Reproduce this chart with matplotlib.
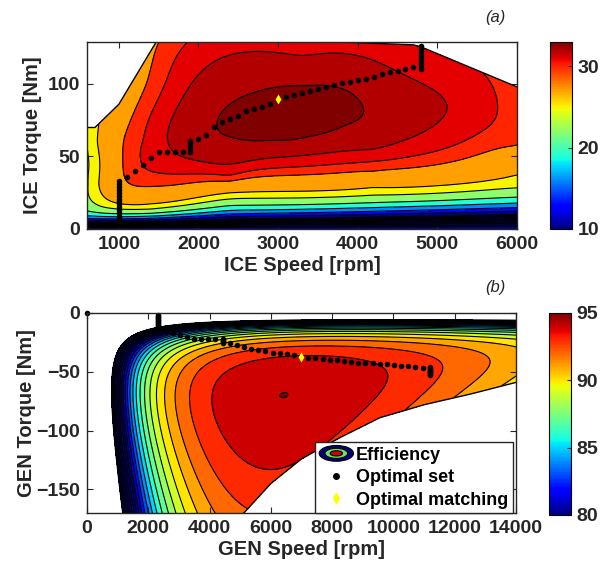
import numpy as np
import matplotlib
matplotlib.use("Agg")
import matplotlib.pyplot as plt
from matplotlib.colors import Normalize
from matplotlib.cm import ScalarMappable
from matplotlib.lines import Line2D
from matplotlib.patches import Ellipse, Patch
from matplotlib.legend_handler import HandlerBase

plt.rcParams['font.family'] = ['Liberation Sans', 'DejaVu Sans']
plt.rcParams['font.weight'] = 'bold'
plt.rcParams['axes.labelweight'] = 'bold'

# ---------------- ICE map (a): points read on the contour lines (rpm, Nm, %)
ice_cont_speed = [2240, 2450, 2450, 2700, 2700, 3150, 3150, 3600, 3600, 3850, 3850, 4050,
                  1600, 5140, 3300, 2390, 4190, 4190,
                  1325, 5760, 2390, 1580, 4190, 4740,
                  1054, 1050, 1080, 1250, 1400, 2390, 4190, 6000, 1350, 1480,
                  6000, 4190, 2390, 1400, 850, 720, 700,
                  6000, 4190, 2390, 1400, 800, 640, 620,
                  6000, 4190, 2390, 1400, 650,
                  3150, 6000, 600]
ice_cont_torque = [74.6, 63.6, 88, 60.7, 93.9, 61, 99, 66.1, 99.3, 72.3, 96.1, 85.4,
                   65, 84, 119, 45.5, 54, 116.6,
                   62, 82, 36, 100, 47.6, 125.7,
                   61, 45, 33, 29.5, 29, 32.6, 39, 56.6, 100, 127,
                   38.6, 29, 25.5, 18.6, 21, 30, 60,
                   28, 23.5, 20, 13, 15, 30, 60,
                   22, 18, 16.6, 11, 12,
                   80, 85, 45]
ice_cont_eff = ([33] * 12 + [32] * 6 + [31] * 6 + [30] * 10 + [27] * 7 + [25] * 7 + [22] * 5 +
                [33.4, 30.6, 24.5])
ice_friction = (5.1, 1.63)   # friction torque = a + b * speed/1000

# full load curve of the engine
ice_max_speed = [600, 700, 1000, 1480, 2500, 4000, 4700, 4800, 6000]
ice_max_torque = [70, 70, 86, 130, 131, 128.5, 127, 125.5, 98]

ice_levels = [-1, 0.5, 1, 2, 3, 4, 5, 6, 7, 8, 9, 10, 13, 16, 19, 22, 25, 27, 30, 31, 32, 33, 40]

# optimal operating set of the engine
ice_opt_speed = ([0] + [1000] * 15 +
                 [1100, 1200, 1300, 1400, 1500, 1600, 1700, 1800] + [1900] * 5 +
                 [2000, 2100, 2200, 2300, 2400, 2500, 2600, 2700, 2800, 2900, 3000,
                  3100, 3200, 3300, 3400, 3500, 3600, 3700, 3800, 3900, 4000,
                  4100, 4200, 4300, 4400, 4500, 4600, 4700] + [4800] * 9)
ice_opt_torque = ([0] + [5, 7, 9, 11, 13, 15, 17, 19, 21, 23, 25, 27, 29, 31, 33] +
                  [36, 40, 44, 49, 53, 53, 53, 53] + [53, 55, 57, 59, 61] +
                  [62, 65, 70, 74, 76, 78, 81.6, 82.5, 84, 86, 89.4,
                   91, 92.4, 94, 95.4, 96.5, 98, 99.3, 101, 101.7, 103,
                   103.7, 105, 107, 108, 109, 110, 111.5] +
                  [110, 112, 114, 116, 118, 120, 122, 124, 126])
ice_match = (3000, 89.5)

# ---------------- GEN map (b): points read on the contour lines (torque magnitude)
gen_cont_speed = [6500, 8000, 9500, 10100, 5220, 4600, 4900, 7500, 5000,
                  11000, 12000, 3430, 3800, 4300, 4700,
                  13570, 3100, 3900,
                  2750, 3500, 2450, 3000, 2050, 2600, 1650, 2000, 1150, 1570]
gen_cont_torque = [40, 40, 45, 58.5, 126, 55, 90, 94.5, 40,
                   40, 52.5, 50, 100, 150, 165,
                   48, 50, 150,
                   50, 150, 50, 150, 50, 150, 50, 150, 50, 170]
gen_cont_eff = [94] * 9 + [93] * 6 + [92] * 3 + [91, 91, 90, 90, 88, 88, 85, 85, 80, 80]
gen_peak = (6400, 70, 95.2)

# power limit of the generator
gen_lim_speed = [5120, 6000, 7000, 8250, 9560, 11000, 12500, 14000]
gen_lim_torque = [170, 145, 124, 106, 89, 78, 69, 59]

gen_levels = list(range(72, 96)) + [100]
gen_weight = {94: 3, 93: 2}
speed_ratio = 2.33
torque_ratio = 2.4


def tps_kernel(r):
    with np.errstate(divide='ignore', invalid='ignore'):
        k = r * r * np.log(r)
    return np.where(r > 0, k, 0.0)


def tps_fit(x, y, z, smooth):
    d = np.hypot(x[:, None] - x[None, :], y[:, None] - y[None, :])
    K = tps_kernel(d) + smooth * np.eye(len(x))
    P = np.column_stack([np.ones_like(x), x, y])
    A = np.block([[K, P], [P.T, np.zeros((3, 3))]])
    sol = np.linalg.solve(A, np.concatenate([z, np.zeros(3)]))
    return sol[:len(x)], sol[len(x):]


def tps_eval(x, y, cx, cy, w, c):
    d = np.hypot(x[..., None] - cx, y[..., None] - cy)
    return tps_kernel(d) @ w + c[0] + c[1] * x + c[2] * y


def ice_load_factor(n, t):
    tf = ice_friction[0] + ice_friction[1] * n / 1000
    return t * t / (t * t + tf * tf)


def gen_terms(n, t):
    # loss model terms: constant, torque (copper) and speed (iron) parts
    a = np.asarray(n, float) / 1000.0
    b = np.asarray(t, float) / 100.0
    one = np.ones_like(a)
    zero = np.zeros_like(a)
    B = np.stack([one, b, b * b, a * a, a ** 3, a * a * b * b, a ** 3 * b * b], -1)
    Ba = np.stack([zero, zero, zero, 2 * a, 3 * a * a, 2 * a * b * b, 3 * a * a * b * b], -1)
    Bb = np.stack([zero, one, 2 * b, zero, zero, 2 * a * a * b, 2 * a ** 3 * b], -1)
    return B, Ba, Bb, a, b


def gen_power(n, t):
    return t * n * np.pi / 30 / 1000


def fit_gen():
    n = np.array(gen_cont_speed, float)
    t = np.array(gen_cont_torque, float)
    e = np.array(gen_cont_eff, float)
    w = np.array([gen_weight.get(x, 1) for x in gen_cont_eff], float)
    B = gen_terms(n, t)[0]
    P = gen_power(n, t)
    pn, pt, pe = gen_peak
    pB, pBa, pBb, pa, pb = gen_terms(pn, pt)
    pP = gen_power(pn, pt)
    k = 8
    A = np.vstack([B * (w / P)[:, None], k * pB / pP, k * (pa * pBa - pB) / pP,
                   k * (pb * pBb - pB) / pP])
    y = np.concatenate([w * (1 - e / 100), [k * (1 - pe / 100), 0, 0]])
    return np.linalg.lstsq(A, y, rcond=None)[0]


def band_colors(levels, lo, hi):
    cmap = matplotlib.colormaps['jet']
    norm = Normalize(lo, hi)
    return [cmap(norm(min(max(l, lo), hi))) for l in levels[:-1]]


class EfficiencyHandler(HandlerBase):
    def create_artists(self, legend, orig_handle, xdescent, ydescent, width, height, fontsize, trans):
        cx = width / 2 - xdescent
        cy = height / 2 - ydescent
        out = []
        for sw, sh, col in [(1.0, 1.25, '#00007a'), (0.66, 0.8, '#6ee06e'), (0.36, 0.42, '#c80000')]:
            out.append(Ellipse((cx, cy), sw * width, sh * height, facecolor=col,
                               edgecolor='k', lw=0.8, transform=trans))
        return out


grey = '#262626'
fig = plt.figure(figsize=(6.16, 5.81), dpi=100)
ax1 = fig.add_axes([0.1412, 0.6059, 0.698, 0.3219])
cax1 = fig.add_axes([0.8929, 0.6059, 0.0357, 0.3219])
ax2 = fig.add_axes([0.1412, 0.1170, 0.6964, 0.3443])
cax2 = fig.add_axes([0.8912, 0.1136, 0.0357, 0.3477])

# ---- (a) ICE: efficiency = load factor * smooth surface through the read points
n = np.array(ice_cont_speed, float)
t = np.array(ice_cont_torque, float)
q = np.array(ice_cont_eff, float) / ice_load_factor(n, t)
sx, sy = 1 / 1250.0, 1.45 / 100.0      # scale to screen-like units
w, c = tps_fit(n * sx, t * sy, q, 0.02)
N, T = np.meshgrid(np.linspace(600, 6000, 360), np.linspace(0, 131, 300))
Z = ice_load_factor(N, T) * tps_eval(N * sx, T * sy, n * sx, t * sy, w, c)
Z = np.ma.masked_where(T > np.interp(N, ice_max_speed, ice_max_torque), Z)
ax1.contourf(N, T, Z, levels=ice_levels, colors=band_colors(ice_levels, 10, 33))
ax1.contour(N, T, Z, levels=ice_levels[1:], colors='k', linewidths=0.8)
ax1.plot(ice_max_speed, ice_max_torque, color='k', lw=1.0)
ax1.plot(ice_opt_speed, ice_opt_torque, 'o', color='k', ms=4, mec='none')
ax1.plot(*ice_match, 'd', color='yellow', ms=5, mec='none')
ax1.set_xlim(600, 6000)
ax1.set_ylim(0, 129)
ax1.set_xticks([1000, 2000, 3000, 4000, 5000, 6000])
ax1.set_yticks([0, 50, 100])
ax1.set_xlabel('ICE Speed [rpm]', fontsize=14.5, color=grey, labelpad=2)
ax1.set_ylabel('ICE Torque [Nm]', fontsize=14.5, color=grey, labelpad=4)
cb1 = fig.colorbar(ScalarMappable(Normalize(10, 33), 'jet'), cax=cax1)
cb1.set_ticks([10, 20, 30])

# ---- (b) GEN: efficiency from a loss model fitted to the read points
c_gen = fit_gen()
N, T = np.meshgrid(np.linspace(1, 14000, 500), np.linspace(0.3, 172, 400))
L = gen_terms(N, T)[0] @ c_gen
Z = 100 * (1 - L / gen_power(N, T))
Z = np.ma.masked_where(T > np.interp(N, gen_lim_speed, gen_lim_torque, left=1e9), Z)
ax2.contourf(N, -T, Z, levels=gen_levels, colors=band_colors(gen_levels, 80, 95))
ax2.contour(N, -T, Z, levels=gen_levels, colors='k', linewidths=0.8)
ax2.plot(gen_lim_speed, -np.array(gen_lim_torque), color='k', lw=1.0)
gs = np.array(ice_opt_speed) * speed_ratio
gt = -np.array(ice_opt_torque) / torque_ratio
ax2.plot(gs, gt, 'o', color='k', ms=4, mec='none', clip_on=False)
ax2.plot(ice_match[0] * speed_ratio, -ice_match[1] / torque_ratio, 'd', color='yellow',
         ms=5, mec='none')
ax2.set_xlim(0, 14000)
ax2.set_ylim(-170, 0)
ax2.set_xticks(range(0, 14001, 2000))
ax2.set_yticks([0, -50, -100, -150])
ax2.set_xlabel('GEN Speed [rpm]', fontsize=14.5, color=grey, labelpad=2)
ax2.set_ylabel('GEN Torque [Nm]', fontsize=14.5, color=grey, labelpad=0)
cb2 = fig.colorbar(ScalarMappable(Normalize(80, 95), 'jet'), cax=cax2)
cb2.set_ticks([80, 85, 90, 95])

eff_handle = Patch()
handles = [eff_handle,
           Line2D([], [], ls='none', marker='o', color='k', ms=4),
           Line2D([], [], ls='none', marker='d', color='yellow', ms=5)]
leg = ax2.legend(handles, ['Efficiency', 'Optimal set', 'Optimal matching'],
                 handler_map={eff_handle: EfficiencyHandler()}, loc='lower right',
                 bbox_to_anchor=(0.993, 0.0), borderaxespad=0.0, fontsize=13,
                 fancybox=False, framealpha=1, edgecolor=grey, handlelength=1.9,
                 handletextpad=0.15, labelspacing=0.3, borderpad=0.25)
leg.get_frame().set_linewidth(1.0)

for ax in (ax1, ax2):
    ax.tick_params(direction='in', top=True, right=True, length=4, width=0.8,
                   labelsize=14, colors=grey, pad=5)
    for sp in ax.spines.values():
        sp.set_color(grey)
        sp.set_linewidth(1.0)
for cax in (cax1, cax2):
    cax.tick_params(direction='in', length=3, width=0.8, labelsize=14, colors=grey, pad=4)

fig.text(0.8036, 0.9707, '(a)', fontsize=12, style='italic', weight='normal',
         ha='center', va='center', color=grey)
fig.text(0.8036, 0.505, '(b)', fontsize=12, style='italic', weight='normal',
         ha='center', va='center', color=grey)

fig.savefig('out.png', dpi=100)
